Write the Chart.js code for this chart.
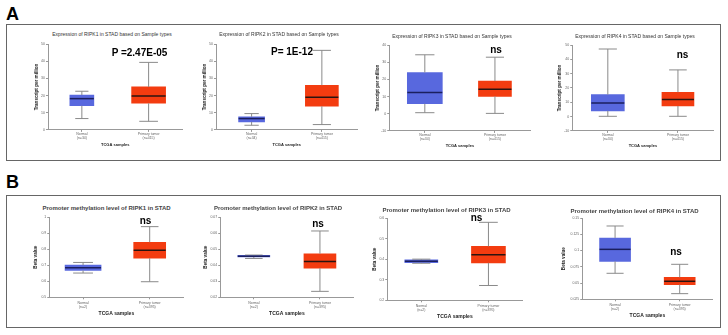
<!DOCTYPE html>
<html><head><meta charset="utf-8">
<script src="https://cdn.jsdelivr.net/npm/chart.js@4.4.0/dist/chart.umd.min.js"></script>
<style>
html,body{margin:0;padding:0;background:#fff;}
#root{position:relative;width:728px;height:335px;overflow:hidden;font-family:"Liberation Sans",Arial,sans-serif;background:#fff;}
.panel{position:absolute;border:1.5px solid #666;box-sizing:border-box;}
.lbl{position:absolute;font-weight:bold;font-size:18px;color:#000;line-height:1;}
.t{position:absolute;white-space:nowrap;transform:translate(-50%,-50%);line-height:1;}
.cv{position:absolute;}
</style></head><body><div id="root"></div>
<script>
// ---------------- DATA ----------------
const categories = ["Normal", "Primary tumor"];
const nExpression = ["(n=34)", "(n=415)"];
const nMethylation = ["(n=2)", "(n=395)"];
// box statistics: [lower whisker, Q1, median, Q3, upper whisker]
const ripk1ExprNormal = [6.6, 14.1, 18.2, 20.3, 22.5];
const ripk1ExprTumor  = [5.0, 15.5, 19.8, 25.0, 39.3];
const ripk2ExprNormal = [2.7, 4.65, 6.6, 7.6, 9.5];
const ripk2ExprTumor  = [3.1, 13.8, 19.0, 26.0, 46.3];
const ripk3ExprNormal = [0.6, 5.8, 12.4, 24.0, 34.3];
const ripk3ExprTumor  = [0.2, 10.1, 14.3, 19.0, 32.9];
const ripk4ExprNormal = [0.2, 4.0, 9.5, 15.3, 47.2];
const ripk4ExprTumor  = [0.2, 7.4, 11.9, 17.0, 32.6];
const ripk1MethNormal = [0.651, 0.667, 0.684, 0.700, 0.717];
const ripk1MethTumor  = [0.597, 0.744, 0.793, 0.843, 0.940];
const ripk2MethNormal = [0.0442, 0.0451, 0.0456, 0.0461, 0.0463];
const ripk2MethTumor  = [0.0237, 0.0382, 0.0423, 0.0471, 0.0613];
const ripk3MethNormal = [0.380, 0.383, 0.390, 0.397, 0.400];
const ripk3MethTumor  = [0.272, 0.382, 0.421, 0.462, 0.579];
const ripk4MethNormal = [0.065, 0.0834, 0.1018, 0.1193, 0.1377];
const ripk4MethTumor  = [0.0337, 0.0475, 0.0527, 0.0588, 0.0788];
// y-axis tick values
const ticksExprRIPK1 = [0, 10, 20, 30, 40, 50];
const ticksExprRIPK2 = [0, 10, 20, 30, 40, 50];
const ticksExprRIPK3 = [-10, 0, 10, 20, 30, 40];
const ticksExprRIPK4 = [-10, 0, 10, 20, 30, 40, 50];
const ticksMethRIPK1 = [0.5, 0.6, 0.7, 0.8, 0.9, 1];
const ticksMethRIPK2 = [0.02, 0.03, 0.04, 0.05, 0.06, 0.07];
const ticksMethRIPK3 = [0.2, 0.3, 0.4, 0.5, 0.6];
const ticksMethRIPK4 = [0.025, 0.05, 0.075, 0.1, 0.125, 0.15];
// titles and annotations
const exprTitles = ["Expression of RIPK1 in STAD based on Sample types","Expression of RIPK2 in STAD based on Sample types","Expression of RIPK3 in STAD based on Sample types","Expression of RIPK4 in STAD based on Sample types"];
const methTitles = ["Promoter methylation level of RIPK1 in STAD","Promoter methylation level of RIPK2 in STAD","Promoter methylation level of RIPK3 in STAD","Promoter methylation level of RIPK4 in STAD"];
const exprAnnotations = ["P =2.47E-05", "P= 1E-12", "ns", "ns"];
const methAnnotations = ["ns", "ns", "ns", "ns"];

// ---------------- LAYOUT ----------------
const FONT = "Liberation Sans";
const BLUE = "rgb(88,104,222)", RED = "rgb(243,60,16)";
const root = document.getElementById('root');
function addDiv(cls, css, text){ const d=document.createElement('div'); d.className=cls; Object.assign(d.style, css); if(text!==undefined) d.textContent=text; root.appendChild(d); return d; }

addDiv('lbl', {left:'6px', top:'5px'}, 'A');
addDiv('panel', {left:'6px', top:'24px', width:'715px', height:'137px'});
addDiv('lbl', {left:'6px', top:'173px'}, 'B');
addDiv('panel', {left:'6px', top:'195px', width:'715px', height:'133px'});

const specs = [
 {stats:[ripk1ExprNormal,ripk1ExprTumor], ticks:ticksExprRIPK1, n:nExpression, yTitle:'Transcript per million', kind:'A', axisX:48.3, top:44.3, bottom:130.3, end:182, d:11.7, widths:[24,34], title:exprTitles[0], tx:112, ty:34.3, ann:exprAnnotations[0], ax:139.5, ay:53},
 {stats:[ripk2ExprNormal,ripk2ExprTumor], ticks:ticksExprRIPK2, n:nExpression, yTitle:'Transcript per million', kind:'A', axisX:216.7, top:44.3, bottom:130.3, end:357, d:11.7, widths:[26,33], title:exprTitles[1], tx:279, ty:34.3, ann:exprAnnotations[1], ax:292, ay:52},
 {stats:[ripk3ExprNormal,ripk3ExprTumor], ticks:ticksExprRIPK3, n:nExpression, yTitle:'Transcript per million', kind:'A', axisX:390, top:45.3, bottom:131.3, end:530, d:12, widths:[35,33], title:exprTitles[2], tx:452, ty:35.7, ann:exprAnnotations[2], ax:496, ay:50},
 {stats:[ripk4ExprNormal,ripk4ExprTumor], ticks:ticksExprRIPK4, n:nExpression, yTitle:'Transcript per million', kind:'A', axisX:573, top:45.3, bottom:131.3, end:713, d:13, widths:[33,32], title:exprTitles[3], tx:635, ty:35.7, ann:exprAnnotations[3], ax:682.5, ay:55},
 {stats:[ripk1MethNormal,ripk1MethTumor], ticks:ticksMethRIPK1, n:nMethylation, yTitle:'Beta value', kind:'B', axisX:49.3, top:216.7, bottom:297.3, end:183, d:14, widths:[36,32], title:methTitles[0], tx:106.5, ty:208.3, ann:methAnnotations[0], ax:145.5, ay:221},
 {stats:[ripk2MethNormal,ripk2MethTumor], ticks:ticksMethRIPK2, n:nMethylation, yTitle:'Beta value', kind:'B', axisX:220.7, top:216.7, bottom:297.3, end:353, d:15, widths:[32,32], title:methTitles[1], tx:278, ty:208.3, ann:methAnnotations[1], ax:318, ay:224},
 {stats:[ripk3MethNormal,ripk3MethTumor], ticks:ticksMethRIPK3, n:nMethylation, yTitle:'Beta value', kind:'B', axisX:388, top:218.3, bottom:300.3, end:522, d:13, widths:[33,34], title:methTitles[2], tx:446.5, ty:210, ann:methAnnotations[2], ax:476.5, ay:218},
 {stats:[ripk4MethNormal,ripk4MethTumor], ticks:ticksMethRIPK4, n:nMethylation, yTitle:'Beta value', kind:'B', axisX:583, top:217.7, bottom:299, end:712, d:19, widths:[31,31], title:methTitles[3], tx:634.5, ty:210.7, ann:methAnnotations[3], ax:676, ay:252},
];

specs.forEach((s) => {
  const isA = s.kind === 'A';
  const yTitleSize = 4.6, yTitleLH = yTitleSize*1.2;
  const xTitleSize = isA ? 4 : 5;
  const xTitleY = isA ? s.bottom + 14.7 : s.bottom + 16.7;
  const yw = s.d + yTitleLH/2;
  const hx = xTitleY - s.bottom + xTitleSize*1.2/2;
  const padTop = 5, padRight = 5;
  const left = s.axisX - yw, top = s.top - padTop;
  const w = Math.round(yw + (s.end - s.axisX) + padRight);
  const h = Math.round(padTop + (s.bottom - s.top) + hx);
  const box = addDiv('cv', {left: left+'px', top: top+'px', width: w+'px', height: h+'px'});
  const cv = document.createElement('canvas'); cv.width = w; cv.height = h; box.appendChild(cv);

  // title + annotation (text)
  addDiv('t', {left:s.tx+'px', top:s.ty+'px', fontSize: isA?'5px':'6px', fontWeight: isA?'normal':'bold', color: isA?'#333':'#444'}, s.title);
  addDiv('t', {left:s.ax+'px', top:s.ay+'px', fontSize:'10px', fontWeight:'bold', color:'#000'}, s.ann);

  const whiskers = {
    id: 'whiskers',
    afterDatasetsDraw(chart) {
      const {ctx, scales:{x, y}} = chart;
      ctx.save();
      s.stats.forEach((st, i) => {
        const xc = x.getPixelForValue(i);
        const bw = s.widths[i], cw = bw*0.55;
        ctx.strokeStyle = '#8a8a8a'; ctx.lineWidth = 1;
        ctx.beginPath();
        ctx.moveTo(xc, y.getPixelForValue(st[0])); ctx.lineTo(xc, y.getPixelForValue(st[1]));
        ctx.moveTo(xc, y.getPixelForValue(st[3])); ctx.lineTo(xc, y.getPixelForValue(st[4]));
        ctx.moveTo(xc-cw/2, y.getPixelForValue(st[0])); ctx.lineTo(xc+cw/2, y.getPixelForValue(st[0]));
        ctx.moveTo(xc-cw/2, y.getPixelForValue(st[4])); ctx.lineTo(xc+cw/2, y.getPixelForValue(st[4]));
        ctx.stroke();
        ctx.strokeStyle = i === 0 ? '#1b1f5e' : '#2a1410'; ctx.lineWidth = 1.5;
        ctx.beginPath();
        ctx.moveTo(xc-bw/2, y.getPixelForValue(st[2])); ctx.lineTo(xc+bw/2, y.getPixelForValue(st[2]));
        ctx.stroke();
      });
      ctx.restore();
    }
  };

  new Chart(cv, {
    type: 'bar',
    data: {
      labels: categories.map((c, i) => [c, s.n[i]]),
      datasets: [
        {data: [[s.stats[0][1], s.stats[0][3]], null], backgroundColor: BLUE, borderWidth: 0, barThickness: s.widths[0], grouped: false},
        {data: [null, [s.stats[1][1], s.stats[1][3]]], backgroundColor: RED, borderWidth: 0, barThickness: s.widths[1], grouped: false}
      ]
    },
    options: {
      responsive: false, animation: false, devicePixelRatio: 1,
      layout: {padding: {top: padTop, right: padRight, left: 0, bottom: 0}},
      plugins: {legend: {display: false}, tooltip: {enabled: false}, title: {display: false}},
      scales: {
        y: {
          type: 'linear', min: s.ticks[0], max: s.ticks[s.ticks.length-1],
          afterBuildTicks: (sc) => { sc.ticks = s.ticks.map(v => ({value: v})); },
          afterFit: (sc) => { sc.width = yw; },
          ticks: {font: {family: FONT, size: 3.5}, color: '#666', padding: 1, callback: (v) => String(v)},
          grid: {display: true, drawOnChartArea: false, tickLength: 2.5, color: '#999'},
          border: {color: '#999', width: 1},
          title: {display: true, text: s.yTitle, font: {family: FONT, size: yTitleSize, weight: 'bold'}, color: '#222', padding: 0}
        },
        x: {
          afterFit: (sc) => { sc.height = hx; },
          ticks: {font: {family: FONT, size: 3.5, lineHeight: 1.15}, color: '#666', padding: isA ? 0 : 1.5, maxRotation: 0, autoSkip: false},
          grid: {display: true, drawOnChartArea: false, offset: false, tickLength: 2, color: '#999'},
          border: {color: '#999', width: 1},
          title: {display: true, text: 'TCGA samples', font: {family: FONT, size: xTitleSize, weight: 'bold'}, color: '#222', padding: 0}
        }
      }
    },
    plugins: [whiskers]
  });
});
</script></body></html>
